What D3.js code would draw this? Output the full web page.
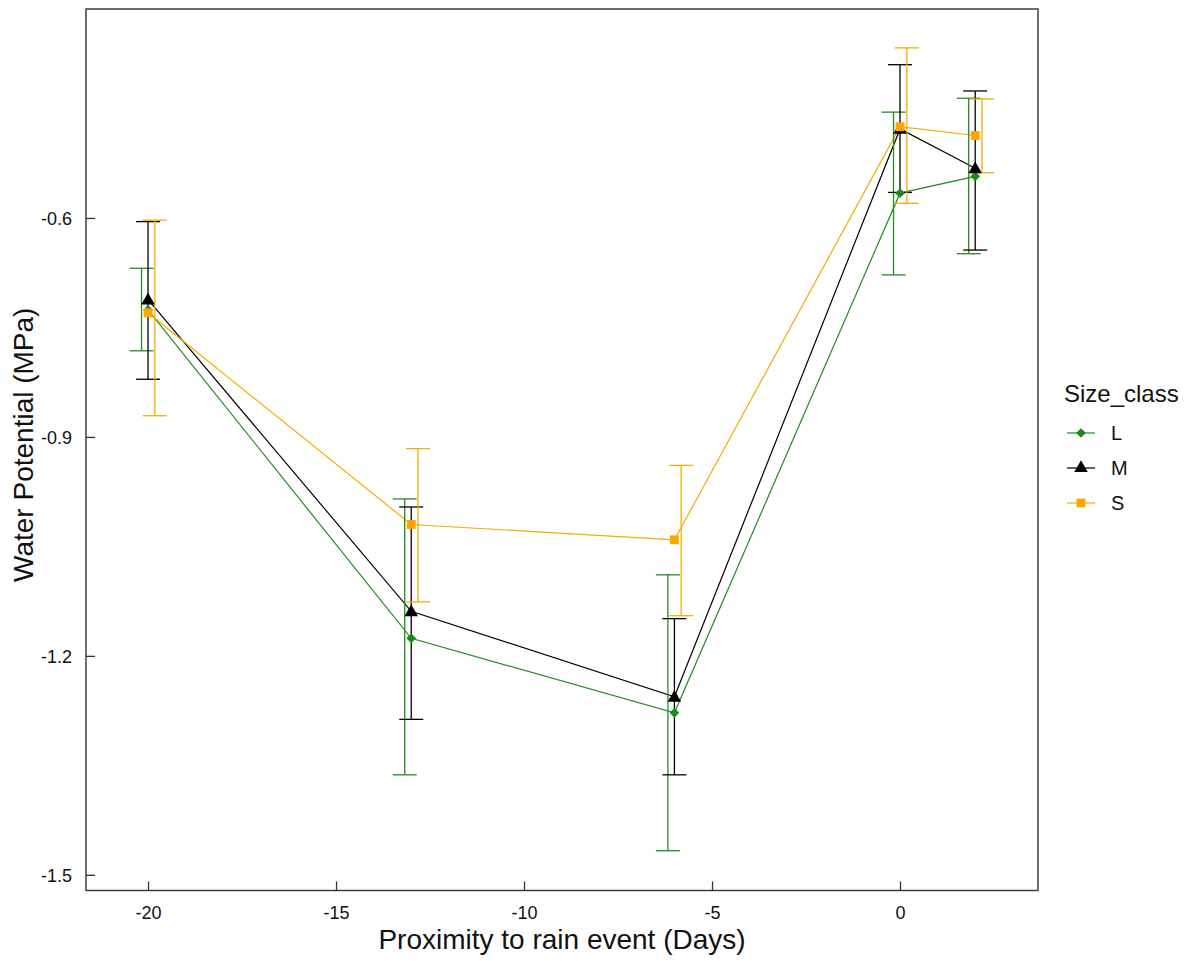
<!DOCTYPE html>
<html lang="en">
<head>
<meta charset="utf-8">
<script src="https://d3js.org/d3.v7.min.js"></script>
<style>
  body { margin: 0; background: #fff; }
  text { font-family: "Liberation Sans", Arial, sans-serif; }
</style>
</head>
<body>
<div id="chart"></div>
<script>
// days relative to the rain event
const days = [-20, -13, -6, 0, 2];
const classes = ['L', 'M', 'S'];

const meanL = [-0.726, -1.176, -1.278, -0.566, -0.543];
const lowL  = [-0.782, -1.363, -1.467, -0.678, -0.649];
const highL = [-0.669, -0.985, -1.089, -0.455, -0.436];

const meanM = [-0.712, -1.139, -1.256, -0.478, -0.532];
const lowM  = [-0.821, -1.287, -1.363, -0.565, -0.644];
const highM = [-0.605, -0.996, -1.149, -0.390, -0.426];

const meanS = [-0.730, -1.020, -1.041, -0.475, -0.487];
const lowS  = [-0.871, -1.126, -1.145, -0.580, -0.538];
const highS = [-0.603, -0.916, -0.939, -0.367, -0.437];

const xTicks = [-20, -15, -10, -5, 0];
const yTicks = [-0.6, -0.9, -1.2, -1.5];

const couleurs = { L: '#228B22', M: '#000000', S: '#F2AE00' };
const remplis = { L: '#1E8A1E', M: '#000000', S: '#FFA500' };
const decalage = { L: -0.173, M: 0, S: 0.18 };

const series = [
    { nom: 'L', mean: meanL, low: lowL, high: highL },
    { nom: 'M', mean: meanM, low: lowM, high: highM },
    { nom: 'S', mean: meanS, low: lowS, high: highS }
];

const W = 1196, H = 961;
const panel = { left: 86, right: 1038, top: 9, bottom: 890.5 };

const x = d3.scaleLinear().domain([-21.65, 3.67]).range([panel.left, panel.right]);
const y = d3.scaleLinear().domain([-1.5215, -0.3137]).range([panel.bottom, panel.top]);

// plain hyphen for negatives, like the original
const fmtX = d => String(d);
const fmtY = d => d.toFixed(1);

const svg = d3.select('#chart').append('svg')
    .attr('width', W).attr('height', H);

svg.append('rect').attr('width', W).attr('height', H).attr('fill', '#fff');

// axes with inward ticks
const axeX = svg.append('g')
    .attr('transform', `translate(0,${panel.bottom})`)
    .call(d3.axisBottom(x).tickValues(xTicks).tickSizeInner(-9).tickSizeOuter(0).tickPadding(16).tickFormat(fmtX));
const axeY = svg.append('g')
    .attr('transform', `translate(${panel.left},0)`)
    .call(d3.axisLeft(y).tickValues(yTicks).tickSizeInner(-9).tickSizeOuter(0).tickPadding(14).tickFormat(fmtY));

[axeX, axeY].forEach(a => {
    a.select('.domain').remove();
    a.selectAll('.tick line').attr('stroke', '#333').attr('stroke-width', 1.3);
    a.selectAll('.tick text').attr('fill', '#111').attr('font-size', 18)
        .attr('font-family', '"Liberation Sans", Arial, sans-serif');
});
axeY.selectAll('.tick text').attr('dy', '0.35em');

svg.append('rect')
    .attr('x', panel.left).attr('y', panel.top)
    .attr('width', panel.right - panel.left).attr('height', panel.bottom - panel.top)
    .attr('fill', 'none').attr('stroke', '#333').attr('stroke-width', 1.4);

// lines
const ligne = d3.line().x((d, i) => x(days[i])).y(d => y(d));
series.forEach(s => {
    svg.append('path')
        .attr('d', ligne(s.mean))
        .attr('fill', 'none')
        .attr('stroke', couleurs[s.nom])
        .attr('stroke-width', 1.2);
});

// error bars, dodged
series.forEach(s => {
    const g = svg.append('g').attr('stroke', couleurs[s.nom]).attr('stroke-width', 1.3);
    days.forEach((d, i) => {
        const cx = x(d + decalage[s.nom]);
        g.append('line').attr('x1', cx).attr('x2', cx).attr('y1', y(s.low[i])).attr('y2', y(s.high[i]));
        g.append('line').attr('x1', cx - 12).attr('x2', cx + 12).attr('y1', y(s.low[i])).attr('y2', y(s.low[i]));
        g.append('line').attr('x1', cx - 12).attr('x2', cx + 12).attr('y1', y(s.high[i])).attr('y2', y(s.high[i]));
    });
});

// points
const formes = {
    L: d3.symbol().type(d3.symbolDiamond2).size(60),
    M: d3.symbol().type(d3.symbolTriangle).size(80),
    S: d3.symbol().type(d3.symbolSquare2).size(100)
};
series.forEach(s => {
    s.mean.forEach((v, i) => {
        svg.append('path')
            .attr('d', formes[s.nom]())
            .attr('transform', `translate(${x(days[i])},${y(v) + (s.nom === 'M' ? 1 : 0)})`)
            .attr('fill', remplis[s.nom]);
    });
});

// axis titles
svg.append('text')
    .attr('x', (panel.left + panel.right) / 2).attr('y', 949)
    .attr('text-anchor', 'middle').attr('font-size', 28).attr('fill', '#111')
    .text('Proximity to rain event (Days)');
svg.append('text')
    .attr('transform', `translate(33,${(panel.top + panel.bottom) / 2 - 5}) rotate(-90)`)
    .attr('text-anchor', 'middle').attr('font-size', 28).attr('fill', '#111')
    .text('Water Potential (MPa)');

// legend
const leg = svg.append('g').attr('transform', 'translate(1064,0)');
leg.append('text').attr('x', 0).attr('y', 402).attr('font-size', 24).attr('fill', '#111').text('Size_class');
classes.forEach((c, i) => {
    const ly = 433 + i * 35;
    leg.append('line').attr('x1', 3).attr('x2', 31).attr('y1', ly).attr('y2', ly)
        .attr('stroke', couleurs[c]).attr('stroke-width', 1.2);
    leg.append('path').attr('d', formes[c]()).attr('transform', `translate(17,${ly})`).attr('fill', remplis[c]);
    leg.append('text').attr('x', 47).attr('y', ly).attr('dy', '0.36em')
        .attr('font-size', 20).attr('fill', '#111').text(c);
});
</script>
</body>
</html>
